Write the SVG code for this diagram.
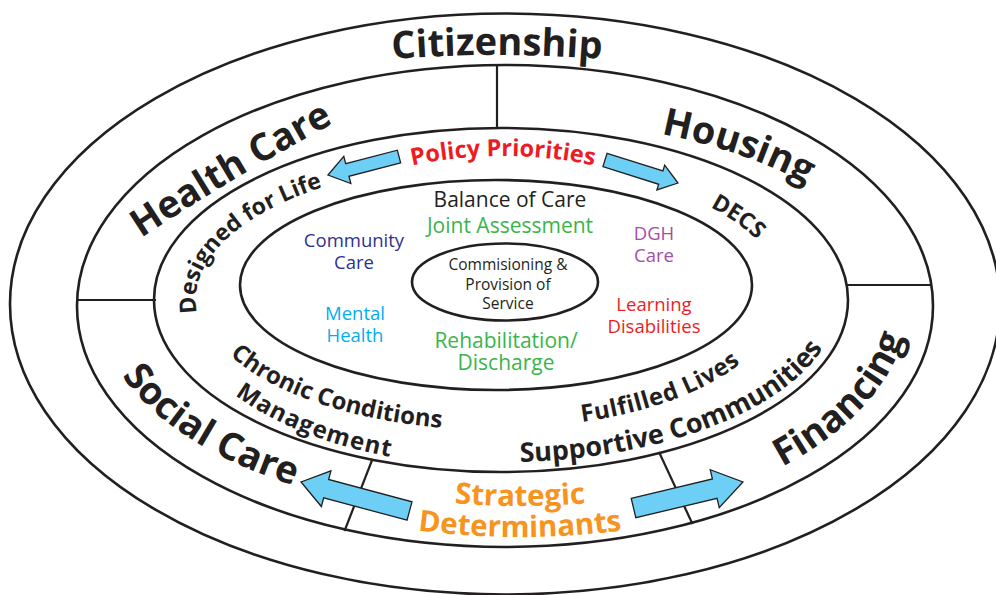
<svg xmlns="http://www.w3.org/2000/svg" width="996" height="595" viewBox="0 0 996 595">
<defs>
<style>
.ring{fill:none;stroke:#231f20;stroke-width:2.6}
.div{stroke:#231f20;stroke-width:2.2;fill:none}
.big{font-family:"Open Sans","Noto Sans",sans-serif;font-weight:700;font-size:38px;fill:#231f20}
.mid{font-family:"Open Sans","Noto Sans",sans-serif;font-weight:700;font-size:24px;fill:#231f20}
.in{font-family:"Open Sans","Noto Sans",sans-serif;font-size:18.5px;text-anchor:middle}
.in2{font-family:"Open Sans","Noto Sans",sans-serif;font-size:21px;text-anchor:middle}
.core{font-family:"Open Sans","Noto Sans",sans-serif;font-size:15.5px;text-anchor:middle;fill:#231f20}
.arrow{fill:#6dcff6;stroke:#231f20;stroke-width:1.3}
</style>
<path id="pCit" d="M297,70 Q497,40 697,70"/>
<path id="pHC" d="M141,238 Q243,171 347,116"/>
<path id="pHou" d="M661,134 A397.5,184 0 0 1 900.5,303"/>
<path id="pSC" d="M122,376 A406,213 0 0 0 503,516"/>
<path id="pFin" d="M782,467 A405,226 0 0 0 908,303"/>
<path id="pDfl" d="M197,313 A305,139 0 0 1 501,161"/>
<path id="pDecs" d="M710,207 A285,137 0 0 1 786,300"/>
<path id="pPol" d="M248,301 A255,145 0 0 1 758,301"/>
<path id="pStr1" d="M120,306 A400,200 0 0 0 920,306"/>
<path id="pStr2" d="M120,337 A400,200 0 0 0 920,337"/>
<path id="pCC" d="M230,355 A299,130.5 0 0 0 501,430.5"/>
<path id="pMan" d="M235,395 A324,167 0 0 0 501,467"/>
<path id="pFL" d="M582,422 A276,128 0 0 0 777,300"/>
<path id="pSupp" d="M520,462 A337,162 0 0 0 838,300"/>
</defs>
<rect width="996" height="595" fill="#ffffff"/>

<g id="rings">
<ellipse id="ring-outer" class="ring" cx="505" cy="304" rx="495" ry="290.5"/>
<ellipse id="ring-sectors" class="ring" cx="505" cy="306" rx="428" ry="241"/>
<ellipse id="ring-policy" class="ring" cx="501" cy="300" rx="347" ry="172"/>
<ellipse id="ring-care" class="ring" cx="496" cy="285" rx="256" ry="105"/>
</g>

<g id="dividers">
<line class="div" x1="497" y1="64" x2="497" y2="129"/>
<line class="div" x1="76" y1="300" x2="156" y2="300"/>
<line class="div" x1="846" y1="285" x2="932" y2="285"/>
<line class="div" x1="372.5" y1="459" x2="344.5" y2="531"/>
<line class="div" x1="659" y1="452" x2="692.5" y2="524"/>
</g>

<g id="node-core">
<ellipse class="ring" cx="505" cy="282" rx="93" ry="38.5"/>
<text class="core" x="508" y="270">Commisioning &amp;</text>
<text class="core" x="508" y="290">Provision of</text>
<text class="core" x="508" y="309">Service</text>
</g>

<g id="node-citizenship"><text class="big"><textPath href="#pCit" startOffset="50%" text-anchor="middle">Citizenship</textPath></text></g>
<g id="node-health-care"><text class="big"><textPath href="#pHC">Health Care</textPath></text></g>
<g id="node-housing"><text class="big"><textPath href="#pHou">Housing</textPath></text></g>
<g id="node-social-care"><text class="big"><textPath href="#pSC">Social Care</textPath></text></g>
<g id="node-financing"><text class="big"><textPath href="#pFin">Financing</textPath></text></g>

<g id="node-policy"><text class="mid" style="fill:#ed1c24;font-size:23.5px"><textPath href="#pPol" startOffset="50%" text-anchor="middle">Policy Priorities</textPath></text></g>
<g id="node-designed"><text class="mid" style="font-size:23px"><textPath href="#pDfl">Designed for Life</textPath></text></g>
<g id="node-decs"><text class="mid" style="font-size:23px"><textPath href="#pDecs">DECS</textPath></text></g>
<g id="node-chronic">
<text class="mid"><textPath href="#pCC">Chronic Conditions</textPath></text>
<text class="mid" letter-spacing="1"><textPath href="#pMan">Management</textPath></text>
</g>
<g id="node-fulfilled">
<text class="mid" letter-spacing="0.5"><textPath href="#pFL">Fulfilled Lives</textPath></text>
<text class="mid" style="font-size:27px"><textPath href="#pSupp">Supportive Communities</textPath></text>
</g>
<g id="node-strategic">
<text class="mid" style="fill:#f7941d;font-size:29.5px"><textPath href="#pStr1" startOffset="50%" text-anchor="middle">Strategic</textPath></text>
<text class="mid" style="fill:#f7941d;font-size:29.5px"><textPath href="#pStr2" startOffset="50%" text-anchor="middle">Determinants</textPath></text>
</g>

<g id="node-balance"><text class="in2" x="510" y="207" fill="#231f20">Balance of Care</text></g>
<g id="node-joint"><text class="in2" x="510" y="233" fill="#39b54a">Joint Assessment</text></g>
<g id="node-community"><text class="in" x="354" y="247" fill="#2e3192">Community</text><text class="in" x="354" y="269" fill="#2e3192">Care</text></g>
<g id="node-dgh"><text class="in" x="654" y="240" fill="#a64ca6">DGH</text><text class="in" x="654" y="262" fill="#a64ca6">Care</text></g>
<g id="node-mental"><text class="in" x="355" y="320" fill="#00aeef">Mental</text><text class="in" x="355" y="342" fill="#00aeef">Health</text></g>
<g id="node-learning"><text class="in" x="654" y="311" fill="#ed1c24">Learning</text><text class="in" x="654" y="333" fill="#ed1c24">Disabilities</text></g>
<g id="node-rehab"><text class="in2" x="506" y="348" fill="#39b54a">Rehabilitation/</text><text class="in2" x="506" y="370" fill="#39b54a">Discharge</text></g>

<g id="connectors">
<polygon class="arrow" transform="translate(399,156.5) rotate(165.4)" points="0,-6.5 53.4,-6.5 53.4,-14 73.4,0 53.4,14 53.4,6.5 0,6.5"/>
<polygon class="arrow" transform="translate(605,160) rotate(17.5)" points="0,-7 58.5,-7 58.5,-13 76.5,0 58.5,13 58.5,7 0,7"/>
<polygon class="arrow" transform="translate(409.5,511) rotate(195)" points="0,-9.5 86.3,-9.5 86.3,-18.5 112.3,0 86.3,18.5 86.3,9.5 0,9.5"/>
<polygon class="arrow" transform="translate(633.5,508) rotate(-13.4)" points="0,-10 83.5,-10 83.5,-19.5 112.5,0 83.5,19.5 83.5,10 0,10"/>
</g>
</svg>
